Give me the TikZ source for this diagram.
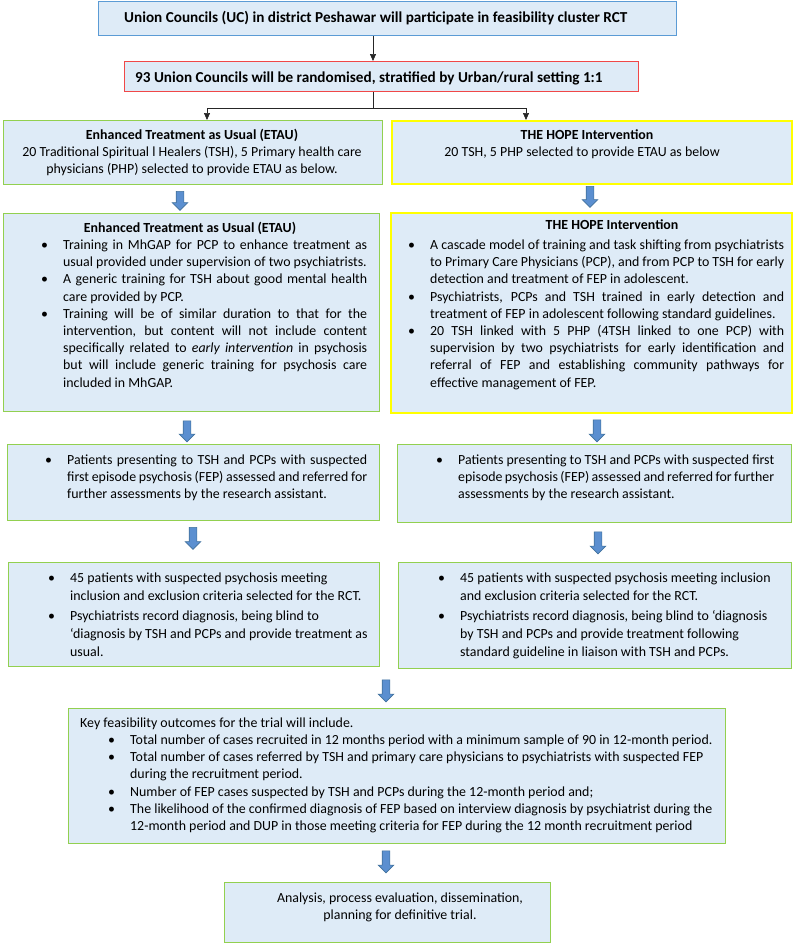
\documentclass[tikz,border=0pt]{standalone}
\usepackage{fontspec}
\setmainfont{Carlito}
\usetikzlibrary{arrows.meta,shapes.arrows}
\definecolor{boxfill}{HTML}{DEEBF7}
\definecolor{topblue}{HTML}{5B9BD5}
\definecolor{redb}{HTML}{F04848}
\definecolor{greenb}{HTML}{92D050}
\definecolor{yellowb}{HTML}{FFFF00}
\definecolor{arrowfill}{HTML}{5B8FD0}
\definecolor{arrowline}{HTML}{41719C}
\newcommand{\bul}{\leavevmode\llap{\makebox[22pt][l]{\textbullet}}}
\newcommand{\J}[1]{\makebox[\linewidth][s]{#1}}
\newcommand{\bodyfont}{\fontsize{13.9}{17.2}\selectfont}
\tikzset{
  box/.style={rectangle, fill=boxfill, line width=1.3pt, inner sep=0pt, anchor=north west},
  gbox/.style={box, draw=greenb},
  ybox/.style={box, draw=yellowb, line width=1.8pt},
  txt/.style={inner sep=0pt, anchor=base west, font=\bodyfont},
  ttl/.style={inner sep=0pt, anchor=base, font=\bodyfont\bfseries},
  ctr/.style={inner sep=0pt, anchor=base, font=\bodyfont},
  bigttl/.style={inner sep=0pt, anchor=base west, font=\fontsize{15.2}{18}\selectfont\bfseries},
  barrow/.style={single arrow, shape border rotate=270, fill=arrowfill, draw=arrowline,
    line width=0.6pt, minimum width=15pt, single arrow head extend=4pt, inner sep=3.5pt},
  thinarr/.style={-{Triangle[width=6pt,length=7pt]}, line width=0.7pt, draw=black!85}
}
\begin{document}
\begin{tikzpicture}[x=1pt,y=-1pt]
\useasboundingbox[fill=white] (0,0) rectangle (794,943);

% boxes
\node[box, draw=topblue, minimum width=578pt, minimum height=34pt] (top) at (98,1) {};
\node[box, draw=redb, minimum width=514pt, minimum height=30pt] (rnd) at (124,61) {};
\node[gbox, minimum width=379pt, minimum height=64pt] (l1) at (3,120) {};
\node[ybox, minimum width=400pt, minimum height=63pt] (r1) at (391,120) {};
\node[gbox, minimum width=376pt, minimum height=198pt] (l2) at (3,213) {};
\node[ybox, minimum width=401pt, minimum height=200pt] (r2) at (390,212) {};
\node[gbox, minimum width=372pt, minimum height=76pt] (l3) at (7,444) {};
\node[gbox, minimum width=394pt, minimum height=78pt] (r3) at (397,444) {};
\node[gbox, minimum width=371pt, minimum height=104pt] (l4) at (8,562) {};
\node[gbox, minimum width=393pt, minimum height=106pt] (r4) at (398,562) {};
\node[gbox, minimum width=657pt, minimum height=135pt] (key) at (68,708) {};
\node[gbox, minimum width=326pt, minimum height=60pt] (fin) at (224,882) {};

% thin connectors
\coordinate (sp) at (373,108);
\coordinate (la) at (207,108);
\coordinate (ra) at (526,108);
\draw[thinarr] (top.south -| sp) -- (rnd.north -| sp);
\draw[thinarr] (rnd.south -| sp) -- (sp) -| (l1.north -| la);
\draw[thinarr] (sp) -| (r1.north -| ra);

% block arrows
\node[barrow, minimum height=19pt] (al1) at (180,199) {};
\node[barrow, minimum height=21pt] (ar1) at (590,195) {};
\node[barrow, minimum height=21pt] (al2) at (187,429.5) {};
\node[barrow, minimum height=22pt] (ar2) at (597,429) {};
\node[barrow, minimum height=22pt] (al3) at (193,536.5) {};
\node[barrow, minimum height=22pt] (ar3) at (598,541) {};
\node[barrow, minimum height=22pt] (ak) at (386,689) {};
\node[barrow, minimum height=22pt] (af) at (386,860) {};

% texts
\node[bigttl] (topt) at (124,22)
  {Union Councils (UC) in district Peshawar will participate in feasibility cluster RCT};
\node[bigttl] (rndt) at (135,82)
  {93 Union Councils will be randomised, stratified by Urban/rural setting 1:1};

\node[ttl] (l1h) at (192,139.5) {Enhanced Treatment as Usual (ETAU)};
\node[ctr] (l1t) at (192,156.5) {\begin{tabular}[t]{@{}c@{}}20 Traditional Spiritual l Healers (TSH), 5 Primary health care\\ physicians (PHP) selected to provide ETAU as below.\end{tabular}};

\node[ttl] (r1h) at (587,139.5) {THE HOPE Intervention};
\node[ctr] (r1t) at (582,156.5) {20 TSH, 5 PHP selected to provide ETAU as below};

\node[ttl] (l2h) at (190,232) {Enhanced Treatment as Usual (ETAU)};
\node[txt] (l2t) at (63,249.5) {\begin{minipage}[t]{304pt}
\J{\bul Training in MhGAP for PCP to enhance treatment as}\\
usual provided under supervision of two psychiatrists.\\
\J{\bul A generic training for TSH about good mental health}\\
care provided by PCP.\\
\J{\bul Training will be of similar duration to that for the}\\
\J{intervention, but content will not include content}\\
\J{specifically related to \textit{early intervention} in psychosis}\\
\J{but will include generic training for psychosis care}\\
included in MhGAP.
\end{minipage}};

\node[ttl] (r2h) at (612,229.5) {THE HOPE Intervention};
\node[txt] (r2t) at (430,249.5) {\begin{minipage}[t]{354pt}
\J{\bul A cascade model of training and task shifting from psychiatrists}\\
\J{to Primary Care Physicians (PCP), and from PCP to TSH for early}\\
detection and treatment of FEP in adolescent.\\
\J{\bul Psychiatrists, PCPs and TSH trained in early detection and}\\
treatment of FEP in adolescent following standard guidelines.\\
\J{\bul 20 TSH linked with 5 PHP (4TSH linked to one PCP) with}\\
\J{supervision by two psychiatrists for early identification and}\\
\J{referral of FEP and establishing community pathways for}\\
effective management of FEP.
\end{minipage}};

\node[txt] (l3t) at (67,464.5) {\begin{minipage}[t]{300pt}
\J{\bul Patients presenting to TSH and PCPs with suspected}\\
\J{first episode psychosis (FEP) assessed and referred for}\\
further assessments by the research assistant.
\end{minipage}};

\node[txt] (r3t) at (458,464.5) {\begin{minipage}[t]{316pt}
\J{\bul Patients presenting to TSH and PCPs with suspected first}\\
\J{episode psychosis (FEP) assessed and referred for further}\\
assessments by the research assistant.
\end{minipage}};

\node[txt, font=\fontsize{13.9}{18}\selectfont] (l4t) at (70,582.5) {\begin{minipage}[t]{310pt}
\bul 45 patients with suspected psychosis meeting\\
inclusion and exclusion criteria selected for the RCT.\\[2pt]
\bul Psychiatrists record diagnosis, being blind to\\
‘diagnosis by TSH and PCPs and provide treatment as\\
usual.
\end{minipage}};

\node[txt, font=\fontsize{13.9}{18}\selectfont] (r4t) at (460,582.5) {\begin{minipage}[t]{325pt}
\bul 45 patients with suspected psychosis meeting inclusion\\
and exclusion criteria selected for the RCT.\\[2pt]
\bul Psychiatrists record diagnosis, being blind to ‘diagnosis\\
by TSH and PCPs and provide treatment following\\
standard guideline in liaison with TSH and PCPs.
\end{minipage}};

\node[txt, font=\fontsize{13.9}{17.3}\selectfont] (kt) at (80,727) {\begin{minipage}[t]{650pt}
Key feasibility outcomes for the trial will include.\\
\hspace*{50pt}\bul Total number of cases recruited in 12 months period with a minimum sample of 90 in 12-month period.\\
\hspace*{50pt}\bul Total number of cases referred by TSH and primary care physicians to psychiatrists with suspected FEP\\
\hspace*{50pt}during the recruitment period.\\
\hspace*{50pt}\bul Number of FEP cases suspected by TSH and PCPs during the 12-month period and;\\
\hspace*{50pt}\bul The likelihood of the confirmed diagnosis of FEP based on interview diagnosis by psychiatrist during the\\
\hspace*{50pt}12-month period and DUP in those meeting criteria for FEP during the 12 month recruitment period
\end{minipage}};

\node[ctr] (fint) at (400,902.5) {\begin{tabular}[t]{@{}c@{}}Analysis, process evaluation, dissemination,\\ planning for definitive trial.\end{tabular}};

\end{tikzpicture}
\end{document}
